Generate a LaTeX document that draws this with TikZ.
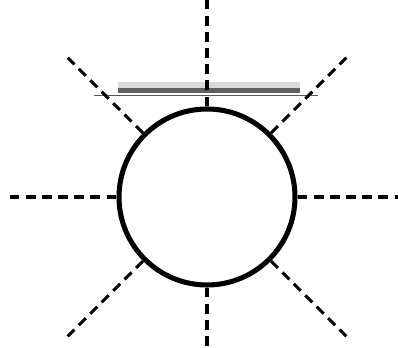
\documentclass[tikz,border=0pt]{standalone}
\usetikzlibrary{calc}
\tikzset{
    ray/.style={line width=2.2pt, dash pattern=on 7pt off 4.5pt},
    ring/.style={circle, draw, line width=3.6pt, minimum size=4.4cm, inner sep=0pt}
}
\begin{document}
\begin{tikzpicture}
    % Frame (398 x 348 px at 40 px per cm)
    \useasboundingbox (0, 0) rectangle (9.95, 8.7);

    % Smudge above the circle
    \fill[gray!30] (2.95, 6.5) rectangle (7.5, 6.65);
    \fill[gray!75!black] (2.95, 6.38) rectangle (7.5, 6.5);
    \draw[line width=0.7pt, gray!70!black] (2.35, 6.3) -- (7.95, 6.3);

    % Circle
    \node[ring] (sun) at (5.175, 3.775) {};

    % Rays, all reaching the same radius
    \foreach \a in {0, 45, ..., 315} {
        \coordinate (tip\a) at ($(sun.center) + (\a:4.925)$);
        \draw[ray] (sun.\a) -- (tip\a);
    }
\end{tikzpicture}
\end{document}
